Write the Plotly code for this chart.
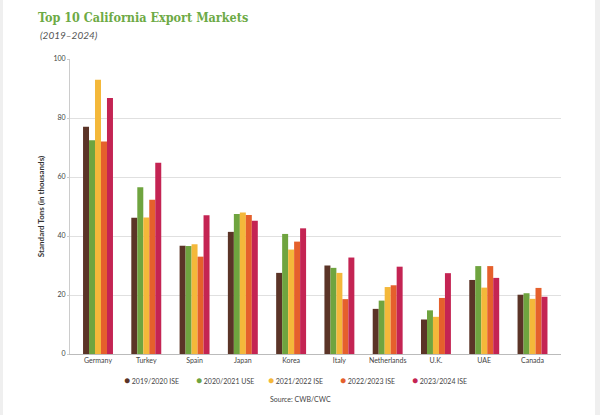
import plotly.graph_objects as go

markets = ["Germany", "Turkey", "Spain", "Japan", "Korea", "Italy", "Netherlands", "U.K.", "UAE", "Canada"]
series_names = ["2019/2020 ISE", "2020/2021 USE", "2021/2022 ISE", "2022/2023 ISE", "2023/2024 ISE"]
v_2019_20 = [77.0, 46.2, 36.7, 41.4, 27.5, 30.0, 15.3, 11.7, 25.1, 20.1]
v_2020_21 = [72.5, 56.5, 36.6, 47.5, 40.7, 29.2, 18.1, 14.8, 29.8, 20.6]
v_2021_22 = [93.0, 46.3, 37.2, 48.0, 35.4, 27.5, 22.7, 12.6, 22.5, 18.7]
v_2022_23 = [72.0, 52.3, 33.0, 47.1, 38.1, 18.6, 23.3, 19.0, 29.8, 22.4]
v_2023_24 = [86.8, 64.8, 47.0, 45.2, 42.6, 32.7, 29.6, 27.4, 25.8, 19.4]
y_ticks = [0, 20, 40, 60, 80, 100]

colors = ["#5B3427", "#6FA43F", "#F4B83A", "#E5602C", "#C42453"]
all_values = [v_2019_20, v_2020_21, v_2021_22, v_2022_23, v_2023_24]

font_family = "Lato, 'Open Sans', sans-serif"
PL, PR, PT, PB = 70, 561, 59, 354
PW, PH = PR - PL, PB - PT

fig = go.Figure()
for name, vals, col in zip(series_names, all_values, colors):
    fig.add_trace(go.Bar(x=markets, y=vals, name=name, showlegend=False,
                         marker=dict(color=col, line=dict(width=0))))

# legend drawn as text items with coloured dots
legend_ann = []
for i, (name, col) in enumerate(zip(series_names, colors)):
    xpx = 122 + i * 72
    legend_ann.append(dict(
        text=f"<span style='color:{col}; font-size:10px'>●</span> {name}",
        xref="paper", yref="paper", x=(xpx - PL) / PW, y=-(380 - PB) / PH,
        xanchor="left", yanchor="middle", showarrow=False,
        font=dict(size=7, color="#444")))

fig.update_layout(
    width=600, height=415,
    margin=dict(l=PL, r=600 - PR, t=PT, b=415 - PB),
    paper_bgcolor="white", plot_bgcolor="white",
    barmode="group", bargap=0.38, bargroupgap=0,
    font=dict(family=font_family, size=7, color="#444"),
    title=dict(text="Top 10 California Export Markets", x=38/600, xanchor="left",
               y=1-18/415, yanchor="middle", xref="container", yref="container",
               font=dict(family="'DejaVu Serif Condensed', 'DejaVu Serif', serif", size=12.5,
                         color="#6DAA45", weight="bold")),
    showlegend=False,
    xaxis=dict(showgrid=False, showline=True, linecolor="#bbb", linewidth=1, ticks="",
               range=[-0.58, 9.59], tickfont=dict(size=7, color="#444")),
    yaxis=dict(range=[0, 100], tickvals=y_ticks, showgrid=True, gridcolor="#e0e0e0", gridwidth=1,
               showline=True, linecolor="#ccc", linewidth=1, zeroline=False,
               tickfont=dict(size=7, color="#444"), ticks="outside", ticklen=2, tickcolor="#ccc",
               title=dict(text="<b>Standard Tons (in thousands)</b>", standoff=7,
                          font=dict(size=8, color="#333"))),
    annotations=legend_ann + [
        dict(text="<i>(2019–2024)</i>", xref="paper", yref="paper", x=-32/PW, y=(PB-35)/PH,
             xanchor="left", yanchor="middle", showarrow=False, font=dict(size=10, color="#555")),
        dict(text="Source: CWB/CWC", xref="paper", yref="paper", x=(300-PL)/PW, y=-(399-PB)/PH,
             xanchor="center", yanchor="middle", showarrow=False, font=dict(size=7, color="#444")),
    ],
    shapes=[
        dict(type="rect", xref="paper", yref="paper", x0=-PL/PW, x1=-(PL-3)/PW, y0=-(415-PB)/PH, y1=1+PT/PH,
             fillcolor="#efefef", line=dict(width=0), layer="below"),
        dict(type="rect", xref="paper", yref="paper", x0=(595-PL)/PW, x1=(600-PL)/PW, y0=-(415-PB)/PH, y1=1+PT/PH,
             fillcolor="#efefef", line=dict(width=0), layer="below"),
    ],
)
fig.write_html("out.html")
